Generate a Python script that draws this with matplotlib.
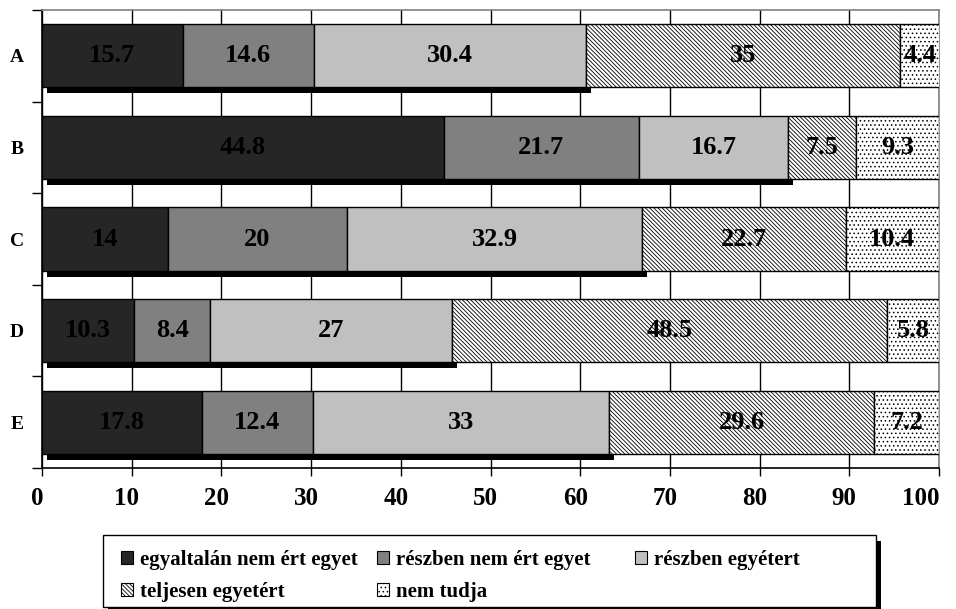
import matplotlib as mpl
mpl.use('Agg')
import matplotlib.pyplot as plt
import matplotlib.transforms as mtransforms
from matplotlib.patches import Rectangle, Patch
import numpy as np

categories = ['A', 'B', 'C', 'D', 'E']
labels = ['egyaltalán nem ért egyet', 'részben nem ért egyet', 'részben egyétert',
          'teljesen egyetért', 'nem tudja']
s1 = [15.7, 44.8, 14.0, 10.3, 17.8]
s2 = [14.6, 21.7, 20.0, 8.4, 12.4]
s3 = [30.4, 16.7, 32.9, 27.0, 33.0]
s4 = [35.0, 7.5, 22.7, 48.5, 29.6]
s5 = [4.4, 9.3, 10.4, 5.8, 7.2]
xticks = [0, 10, 20, 30, 40, 50, 60, 70, 80, 90, 100]

plt.rcParams['font.family'] = ['Liberation Serif', 'DejaVu Serif']
plt.rcParams['font.weight'] = 'bold'
plt.rcParams['hatch.linewidth'] = 0.6

fig = plt.figure(figsize=(9.56, 6.09), dpi=100)
ax = fig.add_axes([42/956, 1-468/609, (939-42)/956, (468-10)/609])

series = [s1, s2, s3, s4, s5]
colors = ['#262626', '#808080', '#c0c0c0', 'white', 'white']
hatches = [None, None, None, '\\' * 8, '....']
y = np.arange(len(categories))
h = 0.69

# drop shadow under the solid part of each bar
solid = np.array(s1) + np.array(s2) + np.array(s3)
shadow = ax.barh(y, solid, height=h, color='black', edgecolor='none', zorder=2)
off = mtransforms.offset_copy(ax.transData, fig=fig, x=5, y=-6, units='dots')
for b in shadow:
    b.set_transform(off)

left = np.zeros(len(categories))
for vals, c, ht in zip(series, colors, hatches):
    bars = ax.barh(y, vals, left=left, height=h, color=c, edgecolor='black',
                   linewidth=1, hatch=ht, zorder=3)
    for b, v in zip(bars, vals):
        txt = '%g' % v
        ax.text(b.get_x() + b.get_width()/2, b.get_y() + b.get_height()/2, txt,
                ha='center', va='center', fontsize=19, fontweight='bold',
                color='black', zorder=5)
    left = left + np.array(vals)

ax.set_xlim(0, 100)
ax.set_ylim(4.5, -0.5)
ax.set_xticks(xticks)
ax.set_xticklabels([str(t) for t in xticks], fontsize=18, fontweight='bold')
ax.set_yticks(y)
ax.set_yticklabels(categories, fontsize=14, fontweight='bold')
ax.set_yticks(np.arange(-0.5, 5, 1), minor=True)
ax.tick_params(axis='y', which='major', length=0, pad=13)
ax.tick_params(axis='y', which='minor', length=7, width=1, direction='out')
ax.tick_params(axis='x', length=6, width=1, direction='out', pad=8)
ax.xaxis.grid(True, color='black', linewidth=1, zorder=1)
ax.set_axisbelow(True)
for s in ['left', 'bottom']:
    ax.spines[s].set_color('black')
    ax.spines[s].set_linewidth(1.2)
for s in ['top', 'right']:
    ax.spines[s].set_color('#808080')
    ax.spines[s].set_linewidth(1.2)

# x labels sit slightly left of their gridlines; the last one is kept inside
shift = mtransforms.ScaledTranslation(-5/100, 0, fig.dpi_scale_trans)
xlabs = ax.get_xticklabels()
for lab in xlabs[:-1]:
    lab.set_transform(lab.get_transform() + shift)
xlabs[-1].set_horizontalalignment('right')

# legend box with shadow
bx0, by0, bx1, by1 = 103, 535, 876, 607
fig.patches.append(Rectangle((bx0 + 5, 609 - by1 - 6), bx1 - bx0, by1 - by0,
                             transform=None, facecolor='black', edgecolor='none', zorder=1))
fig.patches.append(Rectangle((bx0, 609 - by1), bx1 - bx0, by1 - by0,
                             transform=None, facecolor='white', edgecolor='black',
                             linewidth=1, zorder=2))

handles = [Patch(facecolor=c, edgecolor='black', hatch=ht, linewidth=0.8)
           for c, ht in zip(colors, hatches)]
cols = [[0, 3], [1, 4], [2]]
col_x = [106, 362, 620]
for idx, cx in zip(cols, col_x):
    leg = fig.legend([handles[i] for i in idx], [labels[i] for i in idx],
                     loc='upper left', bbox_to_anchor=(cx/956, 1 - 535/609),
                     frameon=False, ncol=1, handlelength=0.6, handleheight=0.6,
                     handletextpad=0.35, labelspacing=0.6, borderpad=0.2,
                     prop={'size': 15, 'weight': 'bold'})
    leg.set_zorder(3)

fig.savefig('out.png', dpi=100)
